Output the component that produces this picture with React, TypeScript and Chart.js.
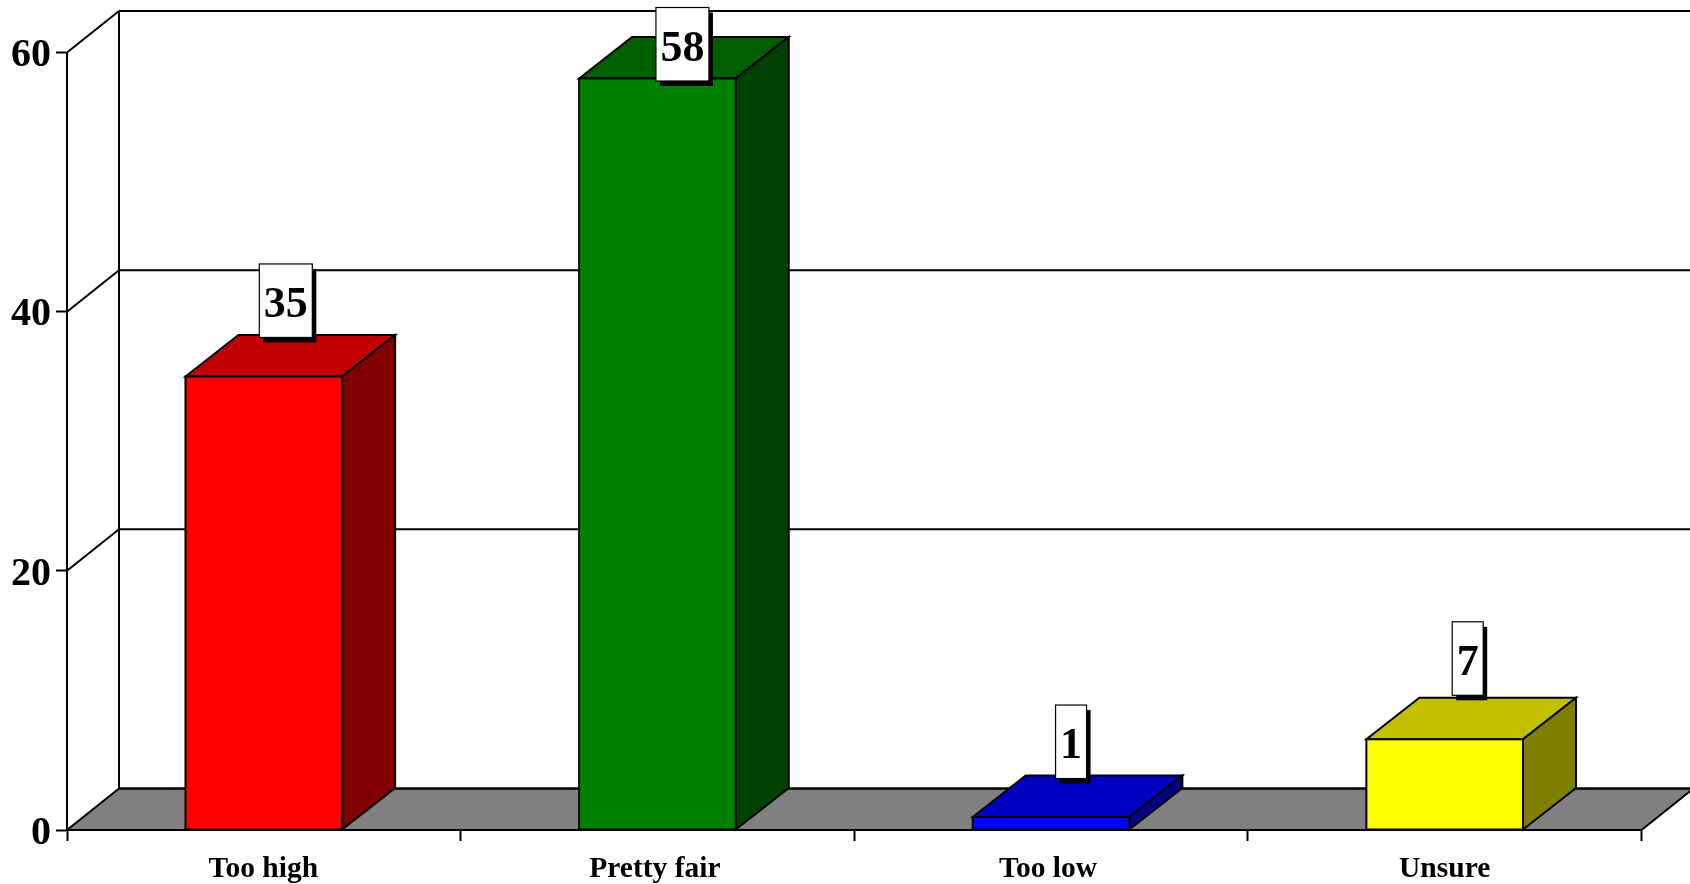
import React, { useEffect, useRef } from "react";
import { Chart, registerables } from "chart.js";

Chart.register(...registerables);

const categories = ["Too high", "Pretty fair", "Too low", "Unsure"];
const values = [35, 58, 1, 7];
const yTicks = [0, 20, 40, 60];

const frontColors = ["#ff0000", "#008000", "#0000ff", "#ffff00"];
const topColors = ["#c00000", "#006000", "#0000c0", "#c0c000"];
const sideColors = ["#800000", "#004000", "#000080", "#808000"];

const labelNudgeX = [22, 25, 20, 23];
const labelGap = [39, 39, 38.5, 44];
const categoryNudgeX = [-0.5, -2.5, -3, 0];

const WALL_DEPTH_X = 52;
const BAR_DEPTH_X = 53;
const DEPTH_Y = 41.5;
const LINE = 2;
const FONT = '"Liberation Serif", "Times New Roman", serif';

function poly(ctx: CanvasRenderingContext2D, pts: number[][], fill?: string) {
  ctx.beginPath();
  pts.forEach((p, i) => (i ? ctx.lineTo(p[0], p[1]) : ctx.moveTo(p[0], p[1])));
  ctx.closePath();
  if (fill) {
    ctx.fillStyle = fill;
    ctx.fill();
  }
  ctx.stroke();
}

function line(ctx: CanvasRenderingContext2D, x1: number, y1: number, x2: number, y2: number) {
  ctx.beginPath();
  ctx.moveTo(x1, y1);
  ctx.lineTo(x2, y2);
  ctx.stroke();
}

// Moves an axis' own tick labels by a small amount.
function nudgeLabels(scale: any, dx: (i: number) => number, dy: number) {
  if (scale.__nudged) return;
  scale.__nudged = true;
  const original = scale._computeLabelItems;
  scale._computeLabelItems = function (area: any) {
    return original.call(scale, area).map((item: any, i: number) => ({
      ...item,
      options: {
        ...item.options,
        translation: [item.options.translation[0] + dx(i), item.options.translation[1] + dy],
      },
    }));
  };
}

const box3d = {
  id: "box3d",
  beforeDatasetsDraw(chart: any) {
    const { ctx, chartArea, scales } = chart;
    const { left, right, bottom } = chartArea;
    const y = scales.y;
    const canvasW = chart.width;
    ctx.save();
    ctx.strokeStyle = "#000";
    ctx.lineWidth = LINE;
    ctx.lineJoin = "miter";

    // Floor
    poly(ctx, [
      [left, bottom],
      [left + WALL_DEPTH_X, bottom - DEPTH_Y],
      [right + WALL_DEPTH_X, bottom - DEPTH_Y],
      [right, bottom],
    ], "#808080");

    // Walls
    yTicks.forEach((t) => {
      const py = y.getPixelForValue(t);
      if (t > 0) line(ctx, left, py, left + WALL_DEPTH_X, py - DEPTH_Y);
      line(ctx, left + WALL_DEPTH_X, py - DEPTH_Y, canvasW + 4, py - DEPTH_Y);
    });
    line(ctx, left + WALL_DEPTH_X, y.getPixelForValue(60) - DEPTH_Y, left + WALL_DEPTH_X, bottom - DEPTH_Y);

    // Bar top and side faces
    const meta = chart.getDatasetMeta(0);
    meta.data.forEach((bar: any, i: number) => {
      const l = bar.x - bar.width / 2;
      const r = bar.x + bar.width / 2;
      const t = bar.y;
      const b = bar.base;
      poly(ctx, [
        [l, t],
        [l + BAR_DEPTH_X, t - DEPTH_Y],
        [r + BAR_DEPTH_X, t - DEPTH_Y],
        [r, t],
      ], topColors[i]);
      poly(ctx, [
        [r, t],
        [r + BAR_DEPTH_X, t - DEPTH_Y],
        [r + BAR_DEPTH_X, b - DEPTH_Y],
        [r, b],
      ], sideColors[i]);
    });
    ctx.restore();
  },
  afterDatasetsDraw(chart: any) {
    const { ctx } = chart;
    const meta = chart.getDatasetMeta(0);
    ctx.save();

    // Outline of the front faces, centred on the bars' edges
    ctx.strokeStyle = "#000";
    ctx.lineWidth = LINE;
    meta.data.forEach((bar: any) => {
      ctx.strokeRect(bar.x - bar.width / 2, bar.y, bar.width, bar.base - bar.y);
    });

    ctx.font = `bold 44px ${FONT}`;
    ctx.textAlign = "center";
    ctx.textBaseline = "middle";
    meta.data.forEach((bar: any, i: number) => {
      const text = String(values[i]);
      const w = ctx.measureText(text).width + 9;
      const h = 73.5;
      const cx = bar.x + labelNudgeX[i];
      const top = Math.max(7.5, bar.y - labelGap[i] - h);
      const x = cx - w / 2;
      ctx.fillStyle = "#000";
      ctx.fillRect(x + 4, top + 5, w, h);
      ctx.fillStyle = "#fff";
      ctx.fillRect(x, top, w, h);
      ctx.strokeStyle = "#000";
      ctx.lineWidth = 1.2;
      ctx.strokeRect(x, top, w, h);
      ctx.fillStyle = "#000";
      ctx.fillText(text, cx, top + h / 2 + 5);
    });
    ctx.restore();
  },
};

export default function App() {
  const ref = useRef<HTMLCanvasElement | null>(null);

  useEffect(() => {
    if (!ref.current) return;
    const chart = new Chart(ref.current, {
      type: "bar",
      data: {
        labels: categories,
        datasets: [
          {
            data: values,
            backgroundColor: frontColors,
            borderWidth: 0,
            barPercentage: 0.398,
            categoryPercentage: 1,
          },
        ],
      },
      plugins: [box3d],
      options: {
        responsive: false,
        animation: false,
        layout: { padding: { top: 52.5, right: 48.5, left: 0, bottom: 0 } },
        plugins: { legend: { display: false }, tooltip: { enabled: false }, title: { display: false } },
        scales: {
          x: {
            offset: true,
            afterFit(s: any) {
              s.height = 54;
              nudgeLabels(s, (i) => categoryNudgeX[i] ?? 0, 0);
            },
            grid: {
              offset: true,
              drawOnChartArea: false,
              drawTicks: true,
              tickLength: 11,
              tickColor: "#000",
              tickWidth: LINE,
            },
            border: { display: true, color: "#000", width: LINE },
            ticks: {
              color: "#000",
              maxRotation: 0,
              autoSkip: false,
              padding: 11,
              font: { family: FONT, size: 29.5, weight: "bold" },
            },
          },
          y: {
            min: 0,
            max: 60,
            afterFit(s: any) {
              s.width = 67;
              nudgeLabels(s, () => 0, 3.5);
            },
            afterBuildTicks(s: any) {
              s.ticks = yTicks.map((value) => ({ value }));
            },
            grid: {
              drawOnChartArea: false,
              drawTicks: true,
              tickLength: 11,
              tickColor: "#000",
              tickWidth: LINE,
            },
            border: { display: true, color: "#000", width: LINE },
            ticks: {
              color: "#000",
              padding: 5,
              font: { family: FONT, size: 40, weight: "bold" },
            },
          },
        },
      },
    } as any);
    return () => chart.destroy();
  }, []);

  return (
    <div style={{ position: "absolute", left: 0, top: 0, width: 1690, height: 884, overflow: "hidden", background: "#fff" }}>
      <canvas ref={ref} width={1690} height={884} style={{ display: "block" }} />
    </div>
  );
}
